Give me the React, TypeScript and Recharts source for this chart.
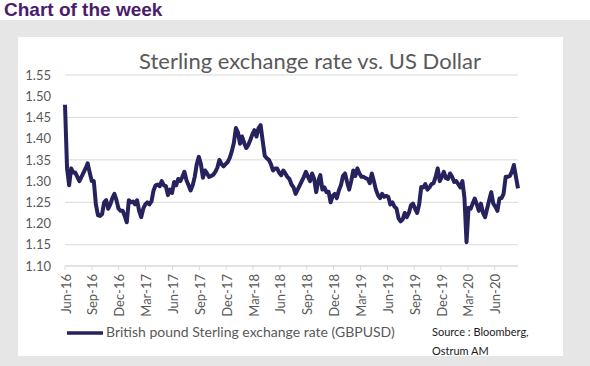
import React from 'react';
import { LineChart, Line, XAxis, YAxis, CartesianGrid } from 'recharts';

// GBPUSD weekly closes, first point 23 Jun 2016 (referendum day), one value per week
const rates2016 = [
  1.48, 1.33, 1.29, 1.33, 1.32, 1.32, 1.31, 1.3, 1.31, 1.32, 1.33, 1.342, 1.32, 1.3, 1.3,
  1.245, 1.22, 1.218, 1.222, 1.25, 1.255, 1.235, 1.245, 1.26, 1.27, 1.255, 1.235, 1.23,
];
const rates2017 = [
  1.23, 1.218, 1.203, 1.255, 1.25, 1.252, 1.245, 1.255, 1.23, 1.215, 1.235, 1.245, 1.25,
  1.245, 1.252, 1.278, 1.29, 1.292, 1.288, 1.3, 1.29, 1.288, 1.267, 1.28, 1.272, 1.298,
  1.29, 1.305, 1.3, 1.31, 1.322, 1.302, 1.29, 1.278, 1.29, 1.31, 1.34, 1.357, 1.34, 1.308,
  1.325, 1.318, 1.31, 1.312, 1.315, 1.322, 1.332, 1.35, 1.34, 1.335, 1.34, 1.345,
];
const rates2018 = [
  1.355, 1.37, 1.39, 1.425, 1.415, 1.388, 1.405, 1.39, 1.378, 1.385, 1.397, 1.41, 1.42,
  1.405, 1.425, 1.432, 1.395, 1.36, 1.354, 1.35, 1.34, 1.325, 1.33, 1.33, 1.32, 1.314,
  1.325, 1.318, 1.31, 1.305, 1.292, 1.285, 1.27, 1.28, 1.29, 1.3, 1.31, 1.322, 1.31, 1.3,
  1.318, 1.305, 1.274, 1.3, 1.314, 1.28, 1.285, 1.274, 1.275, 1.25, 1.265, 1.27,
];
const rates2019 = [
  1.26, 1.278, 1.29, 1.312, 1.318, 1.298, 1.28, 1.3, 1.325, 1.312, 1.33, 1.318, 1.31,
  1.31, 1.307, 1.305, 1.295, 1.318, 1.3, 1.28, 1.267, 1.26, 1.27, 1.263, 1.265, 1.263,
  1.245, 1.25, 1.24, 1.235, 1.212, 1.205, 1.21, 1.225, 1.215, 1.225, 1.243, 1.247, 1.235,
  1.225, 1.245, 1.286, 1.285, 1.293, 1.28, 1.285, 1.293, 1.295, 1.31, 1.33, 1.3, 1.31,
];
const rates2020 = [
  1.322, 1.307, 1.305, 1.318, 1.31, 1.298, 1.3, 1.293, 1.285, 1.3, 1.26, 1.156, 1.237,
  1.235, 1.247, 1.259, 1.245, 1.23, 1.247, 1.225, 1.215, 1.235, 1.255, 1.274, 1.247, 1.24,
  1.23, 1.259, 1.26, 1.27, 1.31, 1.31, 1.312, 1.322, 1.338, 1.31, 1.283,
];

const quarterLabels = [
  'Jun-16', 'Sep-16', 'Dec-16', 'Mar-17', 'Jun-17', 'Sep-17', 'Dec-17', 'Mar-18', 'Jun-18',
  'Sep-18', 'Dec-18', 'Mar-19', 'Jun-19', 'Sep-19', 'Dec-19', 'Mar-20', 'Jun-20',
];
const yTicks = [1.1, 1.15, 1.2, 1.25, 1.3, 1.35, 1.4, 1.45, 1.5, 1.55];

const allRates = [...rates2016, ...rates2017, ...rates2018, ...rates2019, ...rates2020];
const data = allRates.map((rate, i) => ({ week: i, rate }));
const lastWeek = allRates.length - 1;
const WEEKS_PER_QUARTER = 365.25 / 4 / 7;
const xTicks = quarterLabels.map((_, i) => i * WEEKS_PER_QUARTER);

const LINE_COLOR = '#26225e';
const TEXT_GREY = '#595959';
const FONT = 'Lato, "Open Sans", sans-serif';

const QuarterTick = (props: any) => {
  const { x, y, payload } = props;
  const idx = Math.round(payload.value / WEEKS_PER_QUARTER);
  return (
    <text
      x={x + 1}
      y={y + 2}
      transform={`rotate(-90 ${x + 1} ${y + 2})`}
      textAnchor="end"
      dy="0.35em"
      fill={TEXT_GREY}
      fontSize={13}
      fontFamily={FONT}
    >
      {quarterLabels[idx]}
    </text>
  );
};

export default function App() {
  return (
    <div style={{ position: 'absolute', left: 0, top: 0, width: 590, height: 366, background: '#fff', overflow: 'hidden' }}>
      <div style={{ position: 'absolute', left: 0, top: 20, width: 590, height: 346, background: '#e6e6e6' }} />
      <div style={{ position: 'absolute', left: 18, top: 37, width: 545, height: 319, background: '#fff' }} />
      <div
        style={{
          position: 'absolute', left: 4, top: 0, fontFamily: '"Liberation Sans", Arial, sans-serif',
          fontWeight: 'bold', fontSize: 19, lineHeight: '19px', color: '#4b1c6c', whiteSpace: 'nowrap',
        }}
      >
        Chart of the week
      </div>
      <div
        style={{
          position: 'absolute', left: 0, width: 620, top: 48, textAlign: 'center', fontFamily: FONT,
          fontSize: 22, lineHeight: '26px', color: TEXT_GREY, whiteSpace: 'nowrap',
        }}
      >
        Sterling exchange rate vs. US Dollar
      </div>

      <div style={{ position: 'absolute', left: 0, top: 0 }}>
        <LineChart width={590} height={366} data={data} margin={{ top: 75, right: 72, bottom: 40, left: 15 }}>
          <CartesianGrid vertical={false} stroke="#d9d9d9" strokeWidth={1} />
          <XAxis
            dataKey="week"
            type="number"
            domain={[0, lastWeek]}
            ticks={xTicks}
            interval={0}
            tick={<QuarterTick />}
            height={60}
            axisLine={{ stroke: '#d9d9d9' }}
            tickLine={{ stroke: '#d9d9d9' }}
            tickSize={4}
          />
          <YAxis
            domain={[1.1, 1.55]}
            ticks={yTicks}
            width={50}
            axisLine={false}
            tickLine={false}
            tickMargin={8}
            tickFormatter={(v: number) => v.toFixed(2)}
            tick={{ fill: TEXT_GREY, fontSize: 13, fontFamily: FONT }}
          />
          <Line
            type="linear"
            dataKey="rate"
            stroke={LINE_COLOR}
            strokeWidth={4}
            strokeLinejoin="round"
            dot={false}
            isAnimationActive={false}
          />
        </LineChart>
      </div>

      <svg style={{ position: 'absolute', left: 60, top: 325 }} width={50} height={16}>
        <line x1={7} y1={8} x2={43} y2={8} stroke={LINE_COLOR} strokeWidth={3.5} />
      </svg>
      <div
        style={{
          position: 'absolute', left: 106, top: 323, fontFamily: FONT, fontSize: 14, color: TEXT_GREY,
          whiteSpace: 'nowrap',
        }}
      >
        British pound Sterling exchange rate (GBPUSD)
      </div>
      <div
        style={{
          position: 'absolute', left: 432, top: 322, fontFamily: FONT, fontSize: 11, color: '#1a1a1a',
          lineHeight: '19px', whiteSpace: 'nowrap',
        }}
      >
        Source : Bloomberg,
        <br />
        Ostrum AM
      </div>
    </div>
  );
}
